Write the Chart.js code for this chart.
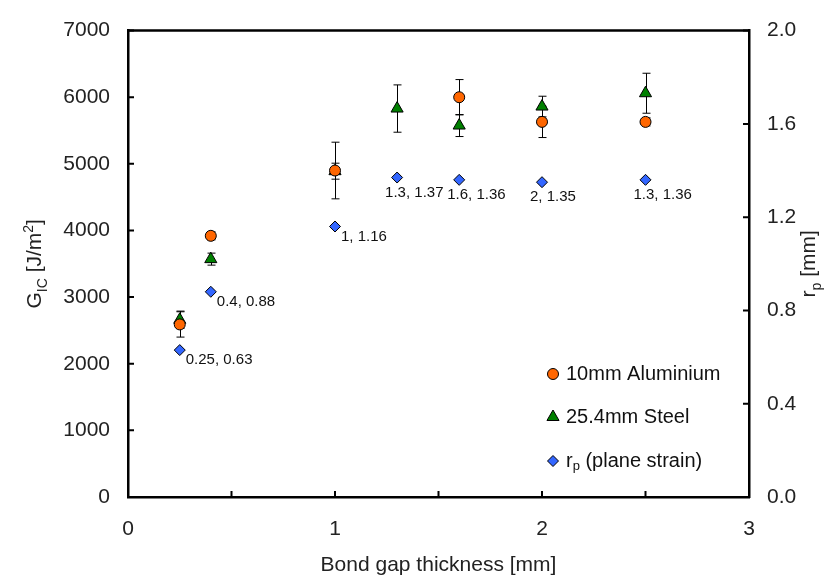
<!DOCTYPE html>
<html lang="en">
<head>
<meta charset="UTF-8">
<title>GIC vs bond gap thickness</title>
<script src="https://cdn.jsdelivr.net/npm/chart.js@4.4.0/dist/chart.umd.min.js"></script>
<style>
  body { margin: 0; background: #fff; }
  #wrap { width: 830px; height: 579px; }
</style>
</head>
<body>
<div id="wrap"><canvas id="gicChart" width="830" height="579"></canvas></div>
<script>
// fracture energy, 10mm aluminium adherends
const alGap = [0.25, 0.4, 1, 1.6, 2, 2.5];
const alGic = [2590, 3920, 4900, 6000, 5630, 5630];
const alErr = [190, 60, 425, 265, 235, 60];

// fracture energy, 25.4mm steel adherends
const steelGap = [0.25, 0.4, 1, 1.3, 1.6, 2, 2.5];
const steelGic = [2660, 3570, 4890, 5830, 5575, 5860, 6060];
const steelErr = [130, 90, 120, 355, 165, 155, 300];

// plastic zone size (plane strain)
const rpGap = [0.25, 0.4, 1, 1.3, 1.6, 2, 2.5];
const rpSize = [0.63, 0.88, 1.16, 1.37, 1.36, 1.35, 1.36];
const rpLabels = ['0.25, 0.63', '0.4, 0.88', '1, 1.16', '1.3, 1.37', '1.6, 1.36', '2, 1.35', '1.3, 1.36'];

// axis ranges
const gapRange = [0, 3, 0.5];
const gicRange = [0, 7000, 1000];
const rpRange = [0, 2, 0.4];

const FONT = "'Liberation Sans', Arial, sans-serif";
const ORANGE = '#ff6600';
const GREEN = '#008000';
const BLUE = '#3366ff';

function pts(xs, ys) {
  return xs.map((x, i) => ({ x: x, y: ys[i] }));
}

// text with sub/superscript pieces
function richText(ctx, parts, x, y, size) {
  let total = 0;
  parts.forEach(p => {
    ctx.font = (p.sub || p.sup ? Math.round(size * 0.65) : size) + 'px ' + FONT;
    p.w = ctx.measureText(p.t).width;
    total += p.w;
  });
  let cx = x - total / 2;
  parts.forEach(p => {
    ctx.font = (p.sub || p.sup ? Math.round(size * 0.65) : size) + 'px ' + FONT;
    let dy = p.sub ? size * 0.28 : (p.sup ? -size * 0.38 : 0);
    ctx.fillText(p.t, cx, y + dy);
    cx += p.w;
  });
  return total;
}

const errorBars = {
  id: 'errorBars',
  beforeDatasetsDraw(chart) {
    const ctx = chart.ctx;
    const sx = chart.scales.x, sy = chart.scales.y;
    const sets = [[alGap, alGic, alErr], [steelGap, steelGic, steelErr]];
    ctx.save();
    ctx.strokeStyle = '#000';
    ctx.lineWidth = 1;
    sets.forEach(([xs, ys, es]) => {
      xs.forEach((xv, i) => {
        const px = Math.round(sx.getPixelForValue(xv)) + 0.5;
        const top = sy.getPixelForValue(ys[i] + es[i]);
        const bot = sy.getPixelForValue(ys[i] - es[i]);
        ctx.beginPath();
        ctx.moveTo(px, top); ctx.lineTo(px, bot);
        ctx.moveTo(px - 4, top); ctx.lineTo(px + 4, top);
        ctx.moveTo(px - 4, bot); ctx.lineTo(px + 4, bot);
        ctx.stroke();
      });
    });
    ctx.restore();
  }
};

const decorations = {
  id: 'decorations',
  afterDraw(chart) {
    const ctx = chart.ctx;
    const a = chart.chartArea;
    const sx = chart.scales.x, sy = chart.scales.y, sr = chart.scales.y2;
    ctx.save();

    // frame top edge and inward tick marks
    ctx.strokeStyle = '#000';
    ctx.lineWidth = 2.5;
    ctx.beginPath();
    ctx.moveTo(a.left - 1, a.top); ctx.lineTo(a.right + 1, a.top);
    ctx.stroke();
    ctx.lineWidth = 2;
    ctx.beginPath();
    sx.ticks.forEach(t => {
      const p = sx.getPixelForValue(t.value);
      ctx.moveTo(p, a.bottom); ctx.lineTo(p, a.bottom - 6);
    });
    sy.ticks.forEach(t => {
      const p = sy.getPixelForValue(t.value);
      ctx.moveTo(a.left, p); ctx.lineTo(a.left + 6, p);
    });
    sr.ticks.forEach(t => {
      const p = sr.getPixelForValue(t.value);
      ctx.moveTo(a.right, p); ctx.lineTo(a.right - 6, p);
    });
    ctx.stroke();

    // r_p point labels
    ctx.fillStyle = '#111';
    ctx.font = '15px ' + FONT;
    ctx.textBaseline = 'middle';
    ctx.textAlign = 'left';
    const meta = chart.getDatasetMeta(2);
    meta.data.forEach((el, i) => {
      if (i < 3) ctx.fillText(rpLabels[i], el.x + 6, el.y + 10);
      else ctx.fillText(rpLabels[i], el.x - 12, el.y + 15);
    });

    // legend inside plot
    const items = [
      { style: 'circle', r: 5.5, bg: ORANGE, parts: [{ t: '10mm Aluminium' }] },
      { style: 'triangle', r: 7, bg: GREEN, parts: [{ t: '25.4mm Steel' }] },
      { style: 'rectRot', r: 5.5, bg: BLUE, parts: [{ t: 'r' }, { t: 'p', sub: true }, { t: ' (plane strain)' }] }
    ];
    const lx = 553, ly = [374, 417, 461];
    items.forEach((it, i) => {
      ctx.fillStyle = it.bg;
      ctx.strokeStyle = '#000';
      ctx.lineWidth = 1;
      Chart.helpers.drawPoint(ctx, { pointStyle: it.style, radius: it.r, borderWidth: 1 }, lx, ly[i]);
      ctx.fillStyle = '#111';
      ctx.textAlign = 'left';
      let w = 0;
      it.parts.forEach(p => {
        ctx.font = (p.sub ? 13 : 20) + 'px ' + FONT;
        w += ctx.measureText(p.t).width;
      });
      richText(ctx, it.parts, lx + 13 + w / 2, ly[i], 20);
    });

    // axis titles with sub/superscripts
    ctx.fillStyle = '#222';
    ctx.textBaseline = 'alphabetic';
    ctx.save();
    ctx.translate(41, (a.top + a.bottom) / 2);
    ctx.rotate(-Math.PI / 2);
    richText(ctx, [{ t: 'G' }, { t: 'IC', sub: true }, { t: ' [J/m' }, { t: '2', sup: true }, { t: ']' }], 0, 0, 21);
    ctx.restore();
    ctx.save();
    ctx.translate(815, (a.top + a.bottom) / 2);
    ctx.rotate(-Math.PI / 2);
    richText(ctx, [{ t: 'r' }, { t: 'p', sub: true }, { t: ' [mm]' }], 0, 0, 21);
    ctx.restore();

    ctx.restore();
  }
};

const tickFont = { family: FONT, size: 21 };

new Chart(document.getElementById('gicChart'), {
  type: 'scatter',
  data: {
    datasets: [
      {
        label: '10mm Aluminium',
        data: pts(alGap, alGic),
        yAxisID: 'y',
        pointStyle: 'circle',
        pointRadius: 5.5,
        backgroundColor: ORANGE,
        borderColor: '#000',
        borderWidth: 1
      },
      {
        label: '25.4mm Steel',
        data: pts(steelGap, steelGic),
        yAxisID: 'y',
        pointStyle: 'triangle',
        pointRadius: 7,
        backgroundColor: GREEN,
        borderColor: '#000',
        borderWidth: 1
      },
      {
        label: 'rp (plane strain)',
        data: pts(rpGap, rpSize),
        yAxisID: 'y2',
        pointStyle: 'rectRot',
        pointRadius: 5.5,
        backgroundColor: BLUE,
        borderColor: '#000',
        borderWidth: 1
      }
    ]
  },
  options: {
    responsive: false,
    animation: false,
    layout: { padding: { top: 20, left: 0, right: 0, bottom: 0 } },
    plugins: {
      legend: { display: false },
      tooltip: { enabled: false }
    },
    scales: {
      x: {
        type: 'linear',
        min: gapRange[0], max: gapRange[1],
        grid: { display: false, drawTicks: false },
        border: { display: true, color: '#000', width: 2.5 },
        ticks: {
          stepSize: gapRange[2],
          autoSkip: false, maxRotation: 0,
          padding: 20,
          color: '#222',
          font: tickFont,
          callback: v => Number.isInteger(v) ? String(v) : ''
        },
        title: {
          display: true,
          text: 'Bond gap thickness [mm]',
          color: '#222',
          font: tickFont,
          padding: { top: 0, bottom: 1 }
        },
        afterFit(s) { s.height = 82; }
      },
      y: {
        position: 'left',
        min: gicRange[0], max: gicRange[1],
        grid: { display: false, drawTicks: false },
        border: { display: true, color: '#000', width: 2.5 },
        ticks: {
          stepSize: gicRange[2], padding: 18, color: '#222', font: tickFont,
          callback: v => String(v)
        },
        afterFit(s) { s.width = 128; }
      },
      y2: {
        position: 'right',
        min: rpRange[0], max: rpRange[1],
        grid: { display: false, drawTicks: false },
        border: { display: true, color: '#000', width: 2.5 },
        ticks: {
          stepSize: rpRange[2], padding: 18, color: '#222', font: tickFont,
          callback: v => v.toFixed(1)
        },
        afterFit(s) { s.width = 81; }
      }
    }
  },
  plugins: [errorBars, decorations]
});
</script>
</body>
</html>
